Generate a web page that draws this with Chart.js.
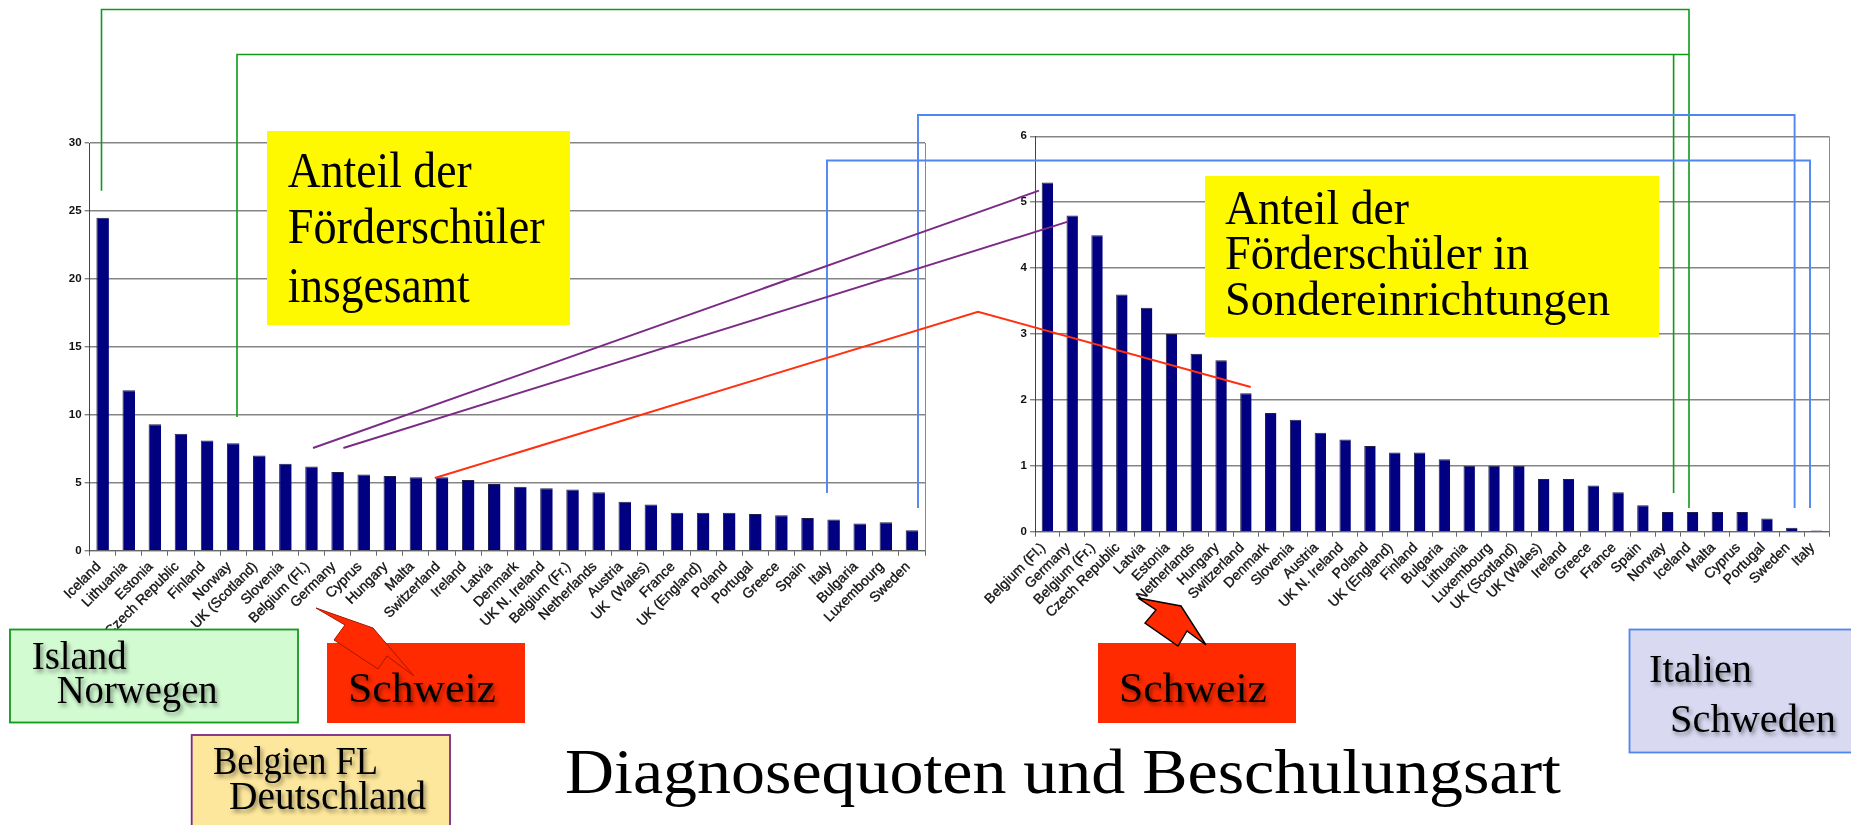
<!DOCTYPE html>
<html lang="de">
<head>
<meta charset="utf-8">
<script src="https://cdn.jsdelivr.net/npm/chart.js@4"></script>
<style>
html,body{margin:0;padding:0;background:#fff;width:1851px;height:825px;overflow:hidden}
canvas{position:absolute}
#c1{left:0;top:120px}
#c2{left:960px;top:110px}
svg{position:absolute;left:0;top:0}
text{font-family:"Liberation Serif",serif;fill:#000}
.sh{filter:drop-shadow(2px 3px 2px rgba(0,0,0,.45))}
</style>
</head>
<body>
<canvas id="c1" width="940" height="530"></canvas>
<canvas id="c2" width="891" height="530"></canvas>
<svg width="1851" height="825" viewBox="0 0 1851 825">
  <g fill="none" stroke-width="1.6">
    <path d="M101.5 190.7V9.5H1689V508" stroke="#0f9a18"/>
    <path d="M237 417V54.5H1689M1673.6 54.5V493" stroke="#0f9a18"/>
    <path d="M918 508V115H1794.6V508" stroke="#4f86f2" stroke-width="1.9"/>
    <path d="M827 493V160.5H1810V508" stroke="#4f86f2" stroke-width="1.9"/>
    <path d="M313 448L1039 190.7" stroke="#7b2a85" stroke-width="1.9"/>
    <path d="M343.4 448L1068 221.7" stroke="#7b2a85" stroke-width="1.9"/>
    <path d="M434.8 478L978 311.7L1250.7 387" stroke="#ff3010" stroke-width="2"/>
  </g>
  <rect x="267" y="131" width="303" height="194" fill="#fff900"/>
  <rect x="1205" y="176" width="454" height="161" fill="#fff900"/>
  <text x="287.7" y="187.3" font-size="51" textLength="184" lengthAdjust="spacingAndGlyphs">Anteil der</text>
  <text x="287.7" y="243" font-size="51" textLength="257" lengthAdjust="spacingAndGlyphs">Förderschüler</text>
  <text x="287.7" y="301.7" font-size="51" textLength="182" lengthAdjust="spacingAndGlyphs">insgesamt</text>
  <text x="1225" y="224" font-size="48" textLength="184" lengthAdjust="spacingAndGlyphs">Anteil der</text>
  <text x="1225" y="269" font-size="48" textLength="304" lengthAdjust="spacingAndGlyphs">Förderschüler in</text>
  <text x="1225" y="315" font-size="48" textLength="385" lengthAdjust="spacingAndGlyphs">Sondereinrichtungen</text>

  <rect x="10" y="629.5" width="288" height="93" fill="#d2fbd2" stroke="#12991a" stroke-width="1.8"/>
  <rect x="191.7" y="735" width="258.3" height="110" fill="#fde79c" stroke="#7b2a85" stroke-width="1.8"/>
  <rect x="327" y="643" width="198" height="80" fill="#ff2a00"/>
  <rect x="1098" y="643" width="198" height="80" fill="#ff2a00"/>
  <rect x="1629.5" y="629.5" width="230" height="123" fill="#d9d9f2" stroke="#4f86f2" stroke-width="1.8"/>

  <path d="M316 608L345 625L334 640L378 669L387 656L414 676L373 628Z" fill="#ff2a00" stroke="#a81500" stroke-width="1"/>
  <path d="M1138 598L1156 610L1145 623L1178 646L1187 631L1206 645L1181 606Z" fill="#ff2a00" stroke="#000" stroke-width="1.4"/>

  <g class="sh" font-size="39">
    <text x="31.7" y="669.3" textLength="95" lengthAdjust="spacingAndGlyphs">Island</text>
    <text x="56.7" y="703" textLength="161" lengthAdjust="spacingAndGlyphs">Norwegen</text>
    <text x="213" y="774" textLength="165" lengthAdjust="spacingAndGlyphs">Belgien FL</text>
    <text x="229" y="808.7" textLength="197" lengthAdjust="spacingAndGlyphs">Deutschland</text>
    <text x="348" y="701.7" font-size="42" textLength="148" lengthAdjust="spacingAndGlyphs">Schweiz</text>
    <text x="1119" y="701.7" font-size="42" textLength="148" lengthAdjust="spacingAndGlyphs">Schweiz</text>
    <text x="1649" y="681.7" textLength="103" lengthAdjust="spacingAndGlyphs">Italien</text>
    <text x="1670" y="731.7" textLength="166" lengthAdjust="spacingAndGlyphs">Schweden</text>
  </g>
  <text x="565" y="793" font-size="63" textLength="996" lengthAdjust="spacingAndGlyphs">Diagnosequoten und Beschulungsart</text>
</svg>
<script>
const categoriesTotal = ["Iceland","Lithuania","Estonia","Czech Republic","Finland","Norway","UK (Scotland)","Slovenia","Belgium (Fl.)","Germany","Cyprus","Hungary","Malta","Switzerland","Ireland","Latvia","Denmark","UK N. Ireland","Belgium (Fr.)","Netherlands","Austria","UK  (Wales)","France","UK (England)","Poland","Portugal","Greece","Spain","Italy","Bulgaria","Luxembourg","Sweden"];
const valuesTotal = [24.5,11.8,9.3,8.6,8.1,7.9,7.0,6.4,6.2,5.8,5.6,5.5,5.4,5.4,5.2,4.9,4.7,4.6,4.5,4.3,3.6,3.4,2.8,2.8,2.8,2.7,2.6,2.4,2.3,2.0,2.1,1.5];
const categoriesSeparate = ["Belgium (Fl.)","Germany","Belgium (Fr.)","Czech Republic","Latvia","Estonia","Netherlands","Hungary","Switzerland","Denmark","Slovenia","Austria","UK N. Ireland","Poland","UK (England)","Finland","Bulgaria","Lithuania","Luxembourg","UK (Scotland)","UK (Wales)","Ireland","Greece","France","Spain","Norway","Iceland","Malta","Cyprus","Portugal","Sweden","Italy"];
const valuesSeparate = [5.3,4.8,4.5,3.6,3.4,3.0,2.7,2.6,2.1,1.8,1.7,1.5,1.4,1.3,1.2,1.2,1.1,1.0,1.0,1.0,0.8,0.8,0.7,0.6,0.4,0.3,0.3,0.3,0.3,0.2,0.06,0.02];

const rightEdge = {
  id: 'rightEdge',
  afterDraw(chart) {
    const {ctx, chartArea: a} = chart;
    ctx.save();
    ctx.strokeStyle = '#8a8a8a';
    ctx.lineWidth = 1;
    ctx.beginPath();
    ctx.moveTo(a.right + .5, a.top);
    ctx.lineTo(a.right + .5, a.bottom);
    ctx.stroke();
    ctx.restore();
  }
};

function makeChart(id, labels, values, maxY, stepY, barPct, pad, yWidth, xHeight) {
  return new Chart(document.getElementById(id), {
    type: 'bar',
    data: { labels, datasets: [{ data: values, backgroundColor: '#000080', borderColor: '#20204a', borderWidth: {top: 1, left: 1, right: 0, bottom: 0}, barPercentage: barPct, categoryPercentage: 1 }] },
    plugins: [rightEdge],
    options: {
      responsive: false, animation: false, devicePixelRatio: 1,
      layout: { padding: pad, autoPadding: false },
      plugins: { legend: { display: false }, tooltip: { enabled: false } },
      scales: {
        x: {
          afterFit(s) { s.height = xHeight; },
          grid: { drawOnChartArea: false, drawTicks: true, tickLength: 5, color: '#666', offset: true },
          border: { color: '#666' },
          ticks: { autoSkip: false, maxRotation: 45, minRotation: 45, padding: 3, labelOffset: -4, color: '#111',
                   textStrokeColor: '#111', textStrokeWidth: 0.35,
                   font: { family: '"Liberation Sans", Arial, sans-serif', size: 14 } }
        },
        y: {
          min: 0, max: maxY,
          afterFit(s) { s.width = yWidth; },
          grid: { color: '#858585', lineWidth: 1.4, tickLength: 5 },
          border: { color: '#444' },
          ticks: { stepSize: stepY, padding: 3, color: '#111',
                   font: { family: '"Liberation Sans", Arial, sans-serif', size: 11.5, weight: 'bold' } }
        }
      }
    }
  });
}
makeChart('c1', categoriesTotal, valuesTotal, 30, 5, 0.48, {left:0,right:15,top:23,bottom:0}, 89.6, 99.3);
makeChart('c2', categoriesSeparate, valuesSeparate, 6, 1, 0.46, {left:0,right:22,top:26.3,bottom:0}, 75, 108.3);
</script>
</body>
</html>
